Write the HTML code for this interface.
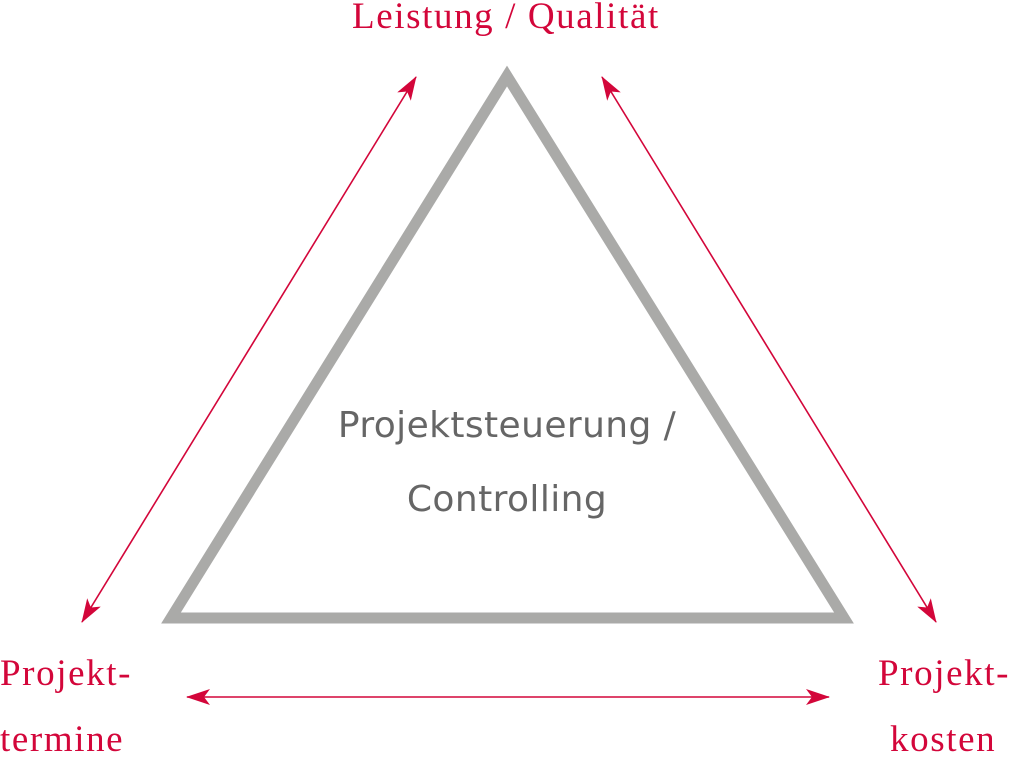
<!DOCTYPE html>
<html><head><meta charset="utf-8"><style>
html,body{margin:0;padding:0;background:#fff;}
body{width:1010px;height:753px;position:relative;overflow:hidden;}
.r{position:absolute;color:#d3063a;font-family:"Liberation Serif",serif;font-size:37px;white-space:nowrap;letter-spacing:1.6px;}
.g{position:absolute;color:#666;font-family:"DejaVu Sans","Liberation Sans",sans-serif;font-size:36px;white-space:nowrap;text-align:center;width:600px;left:207px;letter-spacing:0.4px;}
</style></head><body>
<svg width="1010" height="753" style="position:absolute;left:0;top:0">
<defs>
<marker id="a" viewBox="0 0 24 16" refX="23" refY="8" markerWidth="24" markerHeight="16" markerUnits="userSpaceOnUse" orient="auto-start-reverse">
<path d="M0,0 L24,8 L0,16 L6,8 Z" fill="#d3063a"/>
</marker>
</defs>
<polygon points="507,76 171,618 844,618" fill="none" stroke="#aaaaa8" stroke-width="11" stroke-linejoin="miter"/>
<g stroke="#d3063a" stroke-width="1.6" fill="none">
<line x1="82" y1="622" x2="416" y2="77" marker-start="url(#a)" marker-end="url(#a)"/>
<line x1="602" y1="77" x2="936" y2="622" marker-start="url(#a)" marker-end="url(#a)"/>
<line x1="187" y1="697" x2="829" y2="697" marker-start="url(#a)" marker-end="url(#a)"/>
</g>
</svg>
<div class="r" style="left:352px;top:-5px;">Leistung / Qualität</div>
<div class="r" style="left:0px;top:652px;">Projekt-</div>
<div class="r" style="left:0px;top:718px;">termine</div>
<div class="r" style="left:878px;top:652px;">Projekt-</div>
<div class="r" style="left:890px;top:718px;">kosten</div>
<div class="g" style="top:405px;">Projektsteuerung /</div>
<div class="g" style="top:479px;">Controlling</div>
</body></html>
